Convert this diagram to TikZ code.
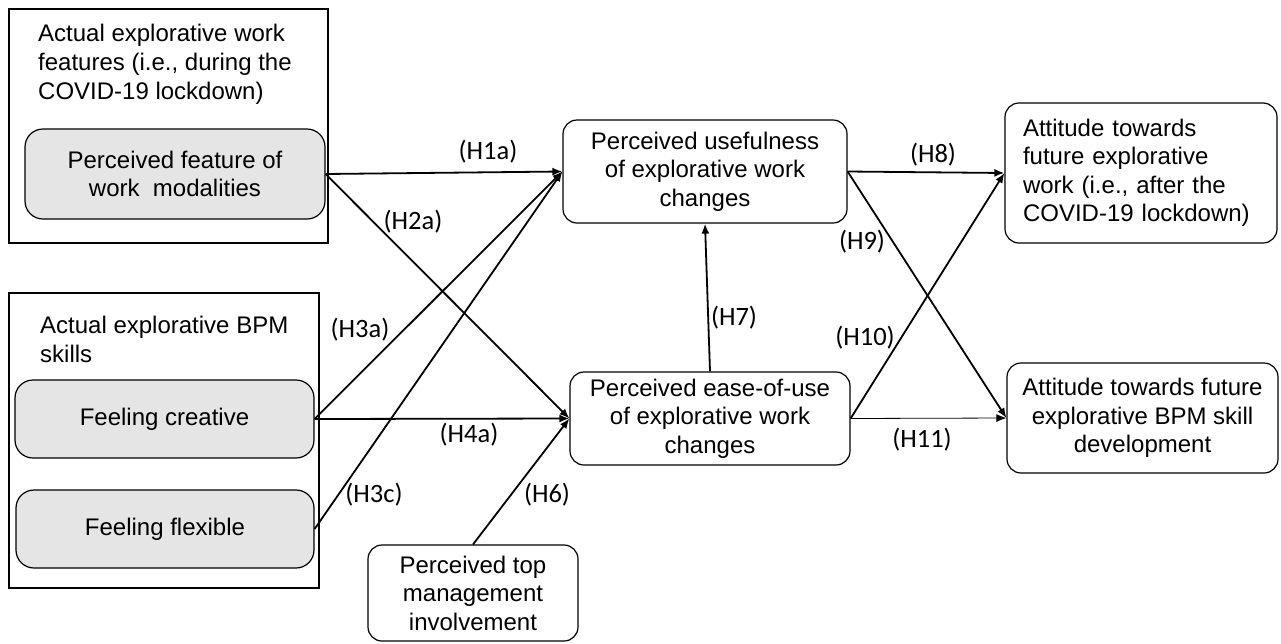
\documentclass[tikz,border=0pt]{standalone}
\usepackage{fontspec}
\setmainfont{Liberation Sans}
\newfontfamily\labfont{Carlito}
\usetikzlibrary{arrows.meta}
\begin{document}
\begin{tikzpicture}[x=1pt,y=-1pt,
  box/.style={draw,line width=1.2pt,rounded corners=14pt,align=center,inner sep=0pt,font=\fontsize{24}{28.5}\selectfont},
  graybox/.style={box,fill=black!10,rounded corners=18pt},
  groupbox/.style={draw,line width=1.2pt},
  grouptitle/.style={anchor=north west,align=left,inner sep=0pt,font=\fontsize{24}{29}\selectfont},
  hyp/.style={font=\labfont\fontsize{26.5}{30}\selectfont,inner sep=0pt},
  arr/.style={-{Latex[length=10pt,width=8pt]},line width=1.8pt},
  thinarr/.style={-{Latex[length=10pt,width=8pt]},line width=0.8pt}
]
\useasboundingbox (0,0) rectangle (1281,643);

% group frames
\draw[groupbox] (9,9) rectangle (328,243);
\draw[groupbox] (9,293) rectangle (319,588);
\node[grouptitle] (t1) at (38,24) {Actual explorative work\\features (i.e., during the\\COVID-19 lockdown)};
\node[grouptitle] (t2) at (40,316) {Actual explorative BPM\\skills};

% gray boxes
\node[graybox,minimum width=300pt,minimum height=90pt] (feat) at (175,174) {Perceived feature of\\work\ \ modalities};
\node[graybox,minimum width=299pt,minimum height=78pt] (crea) at (164.5,419) {Feeling creative};
\node[graybox,minimum width=298pt,minimum height=78pt] (flex) at (165,529) {Feeling flexible};

% white boxes
\node[box,minimum width=284pt,minimum height=103pt] (use) at (705,171.5) {Perceived usefulness\\of explorative work\\changes};
\node[box,minimum width=280pt,minimum height=93pt] (ease) at (710,418.5) {Perceived ease-of-use\\of explorative work\\changes};
\node[box,minimum width=210pt,minimum height=96pt] (top) at (473,593) {Perceived top\\management\\involvement};
\node[box,align=left,text width=236pt,inner xsep=18pt,minimum height=140pt] (att1) at (1141,173) {Attitude towards\\future explorative\\work (i.e., after the\\COVID-19 lockdown)};
\node[box,minimum width=271pt,minimum height=110pt] (att2) at (1142.5,418) {Attitude towards future\\explorative BPM skill\\development};

% connectors
\draw[arr] (feat.east) -- (use.west);
\draw[arr] (feat.east) -- (ease.west);
\draw[arr] (crea.east) -- (use.west);
\draw[arr] (flex.east) -- (use.west);
\draw[arr] (crea.east) -- (ease.west);
\draw[arr] (top.north) -- (ease.west);
\draw[arr] (ease.north) -- (use.south);
\draw[arr] (use.east) -- (att1.west);
\draw[arr] (use.east) -- (att2.west);
\draw[arr] (ease.east) -- (att1.west);
\draw[thinarr] (ease.east) -- (att2.west);

% labels
\node[hyp] (h1a) at (488,152) {(H1a)};
\node[hyp] (h2a) at (413,222) {(H2a)};
\node[hyp] (h3a) at (360,330) {(H3a)};
\node[hyp] (h4a) at (469,435) {(H4a)};
\node[hyp] (h3c) at (374,495) {(H3c)};
\node[hyp] (h6) at (547,495) {(H6)};
\node[hyp] (h7) at (734,318) {(H7)};
\node[hyp] (h8) at (933,155) {(H8)};
\node[hyp] (h9) at (862,242) {(H9)};
\node[hyp] (h10) at (865,338) {(H10)};
\node[hyp] (h11) at (922,440) {(H11)};
\end{tikzpicture}
\end{document}
